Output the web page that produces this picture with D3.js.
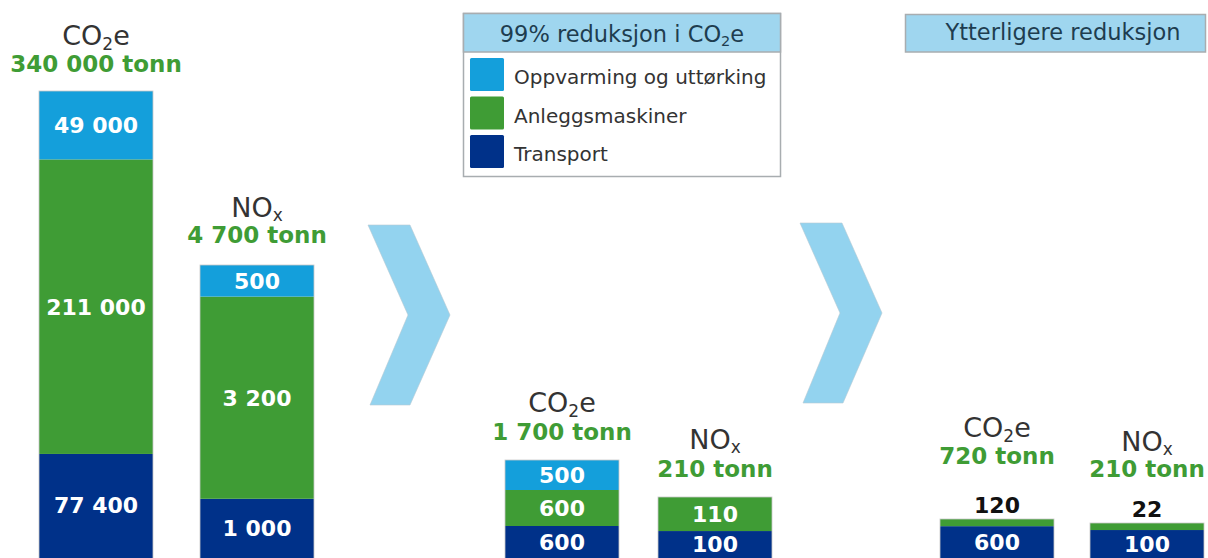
<!DOCTYPE html>
<html><head><meta charset="utf-8">
<script src="https://cdn.jsdelivr.net/npm/d3@7"></script>
<style>html,body{margin:0;padding:0;background:#fff;overflow:hidden}svg{display:block}</style>
</head><body>
<script>
// ---- data ----
const categories = ["Oppvarming og uttørking", "Anleggsmaskiner", "Transport"];
const barGases = ["CO2e", "NOx", "CO2e", "NOx", "CO2e", "NOx"];
const totalLabels = ["340 000 tonn", "4 700 tonn", "1 700 tonn", "210 tonn", "720 tonn", "210 tonn"];
const oppvarming = [49000, 500, 500, 0, 0, 0];
const anleggsmaskiner = [211000, 3200, 600, 110, 120, 22];
const transport = [77400, 1000, 600, 100, 600, 100];
const headerTexts = ["99% reduksjon i CO", "Ytterligere reduksjon"];

// ---- layout / style ----
const W = 1208, H = 558;
const colors = ["#149fdb", "#3f9c35", "#003189"];
const barX = [39, 200, 505, 658, 940, 1090];
const barTop = [91, 265, 460, 497, 519, 523];
const barW = 114;
const baseline = 562;
const titleY = [45, 217, 412, 449, 437, 451];
const totalY = [72, 243, 440, 477, 464, 477];
const FONT = "'DejaVu Sans', Verdana, sans-serif";

const svg = d3.select("body").append("svg").attr("width", W).attr("height", H)
  .style("font-family", FONT);

const locale = d3.formatLocale({decimal: ",", thousands: "\u00a0", grouping: [3], currency: ["", ""]});
const fmt = locale.format(",d");

const series = [oppvarming, anleggsmaskiner, transport];
const rows = barGases.map((g, i) => ({i, g, v: series.map(s => s[i])}));

// chevrons
const chevrons = [
  [[368,225],[410,225],[450,315],[410,405],[370,405],[408,315]],
  [[800,223],[842,223],[882,313],[843,403],[803,403],[840,313]]
];
svg.selectAll("path.chev").data(chevrons).join("path")
  .attr("d", d => d3.line()(d) + "Z")
  .attr("fill", "#93d3ef").attr("stroke", "#b5c9d3").attr("stroke-width", 0.6);

// bars
rows.forEach(r => {
  const total = d3.sum(r.v);
  const y = d3.scaleLinear().domain([0, total]).range([baseline, barTop[r.i]]);
  const g = svg.append("g");
  const order = [2, 1, 0];
  let acc = 0;
  const segs = [];
  order.forEach(k => {
    const v = r.v[k];
    if (v <= 0) return;
    segs.push({k, v, y0: acc, y1: acc + v});
    acc += v;
  });
  g.selectAll("rect").data(segs).join("rect")
    .attr("x", barX[r.i]).attr("width", barW)
    .attr("y", d => y(d.y1)).attr("height", d => y(d.y0) - y(d.y1))
    .attr("fill", d => colors[d.k]);
  g.append("rect").attr("x", barX[r.i]).attr("y", barTop[r.i]).attr("width", barW)
    .attr("height", baseline - barTop[r.i]).attr("fill", "none")
    .attr("stroke", "#c8c8c8").attr("stroke-width", 0.8);
  const cx = barX[r.i] + barW / 2;
  segs.forEach(d => {
    const h = y(d.y0) - y(d.y1);
    const small = h < 15;
    const ty = small ? y(total) - 6 : (y(d.y1) + Math.min(y(d.y0), H - 1)) / 2 + 8;
    g.append("text").attr("x", cx).attr("y", ty)
      .attr("text-anchor", "middle").attr("font-size", 22).attr("font-weight", "bold")
      .attr("fill", small ? "#111" : "#fff").text(fmt(d.v));
  });
  // titles
  const t = svg.append("text").attr("x", cx).attr("y", titleY[r.i]).attr("text-anchor", "middle")
    .attr("font-size", 27).attr("fill", "#333");
  if (r.g === "CO2e") {
    t.append("tspan").text("CO");
    t.append("tspan").attr("font-size", 17).attr("dy", 5).text("2");
    t.append("tspan").attr("dy", -5).text("e");
  } else {
    t.append("tspan").text("NO");
    t.append("tspan").attr("font-size", 17).attr("dy", 4).text("x");
  }
  svg.append("text").attr("x", cx).attr("y", totalY[r.i]).attr("text-anchor", "middle")
    .attr("font-size", 23).attr("font-weight", "bold").attr("fill", "#3f9c35").text(totalLabels[r.i]);
});

// legend box
const lg = svg.append("g");
lg.append("rect").attr("x", 463.5).attr("y", 13.5).attr("width", 317).attr("height", 163)
  .attr("fill", "#fff").attr("stroke", "#a8adb0").attr("stroke-width", 1.5);
lg.append("rect").attr("x", 463.5).attr("y", 13.5).attr("width", 317).attr("height", 38.5)
  .attr("fill", "#9fd6ef").attr("stroke", "#a8adb0").attr("stroke-width", 1.5);
const ht = lg.append("text").attr("x", 622).attr("y", 42).attr("text-anchor", "middle")
  .attr("font-size", 22.5).attr("fill", "#1e3d4f");
ht.append("tspan").text(headerTexts[0]);
ht.append("tspan").attr("font-size", 14.5).attr("dy", 4).text("2");
ht.append("tspan").attr("dy", -4).text("e");
const items = lg.selectAll("g.item").data(categories).join("g").attr("class", "item")
  .attr("transform", (d, i) => `translate(470,${58 + i * 38.5})`);
items.append("rect").attr("width", 34).attr("height", 33).attr("rx", 1.5)
  .attr("fill", (d, i) => colors[i]);
items.append("text").attr("x", 44).attr("y", 26).attr("font-size", 20).attr("fill", "#333").text(d => d);

// second header
svg.append("rect").attr("x", 905.5).attr("y", 14.5).attr("width", 300).attr("height", 37.5)
  .attr("fill", "#9fd6ef").attr("stroke", "#a8adb0").attr("stroke-width", 1.5);
svg.append("text").attr("x", 1063).attr("y", 40).attr("text-anchor", "middle")
  .attr("font-size", 22.5).attr("fill", "#1e3d4f").text(headerTexts[1]);
</script>
</body></html>
